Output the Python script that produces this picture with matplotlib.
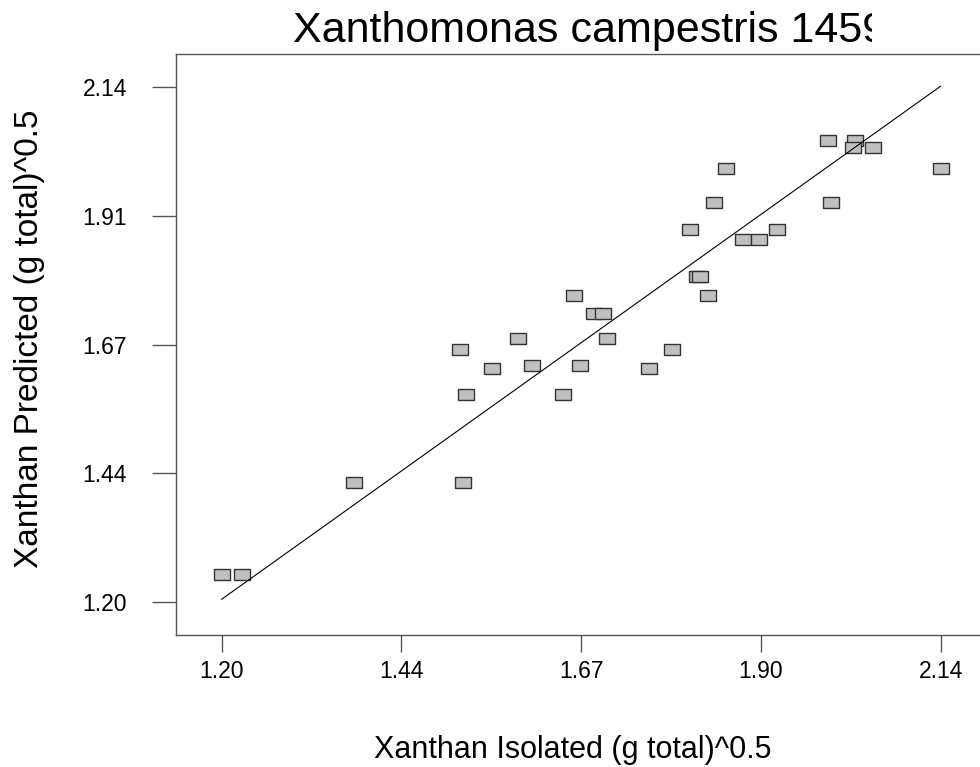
import matplotlib
matplotlib.use("Agg")
import matplotlib.pyplot as plt
from matplotlib.transforms import Bbox

plt.rcParams['font.family'] = ['Liberation Sans', 'DejaVu Sans']

title = "Xanthomonas campestris 1459"
x_label = "Xanthan Isolated (g total)^0.5"
y_label = "Xanthan Predicted (g total)^0.5"

# square-root transformed xanthan, isolated vs. model prediction
isolated = [1.200, 1.226, 1.373, 1.516, 1.511, 1.520, 1.553, 1.587,
            1.606, 1.646, 1.660, 1.668, 1.687, 1.699, 1.704, 1.759,
            1.789, 1.822, 1.825, 1.836, 1.812, 1.844, 1.860, 1.882,
            1.902, 1.926, 1.993, 1.996, 2.028, 2.025, 2.052, 2.140]
predicted = [1.252, 1.252, 1.419, 1.419, 1.662, 1.579, 1.628, 1.681,
             1.632, 1.579, 1.760, 1.632, 1.728, 1.728, 1.681, 1.628,
             1.662, 1.795, 1.795, 1.760, 1.880, 1.930, 1.992, 1.862,
             1.862, 1.880, 2.043, 1.930, 2.043, 2.031, 2.031, 1.992]

# least-squares fit line drawn through the points
fit_intercept = 0.0113
fit_slope = 0.9952

tick_values = [1.20, 1.435, 1.67, 1.905, 2.14]
x_tick_labels = ["1.20", "1.44", "1.67", "1.90", "2.14"]
y_tick_labels = ["1.20", "1.44", "1.67", "1.91", "2.14"]

W, H = 980, 767
fig = plt.figure(figsize=(W / 100, H / 100), dpi=100)
ax = fig.add_axes([176 / W, (H - 635) / H, (990 - 176) / W, (635 - 53.7) / H])
ax.set_xlim(1.1403, 2.2045)
ax.set_ylim(1.1404, 2.2002)

spine_col = "#555555"
for side in ("left", "top", "bottom", "right"):
    ax.spines[side].set_color(spine_col)
    ax.spines[side].set_linewidth(1.0)

# wide, flat rectangles as point markers
rect = [(-1, -0.72), (1, -0.72), (1, 0.72), (-1, 0.72), (-1, -0.72)]
ax.plot(isolated, predicted, linestyle="none", marker=rect, ms=11.0,
        mfc="#c0c0c0", mec="#333333", mew=1.0, zorder=2)

x0, x1 = min(isolated), max(isolated)
ax.plot([x0, x1], [fit_intercept + fit_slope * x0, fit_intercept + fit_slope * x1],
        color="black", lw=0.8, zorder=3)

ax.set_xticks(tick_values)
ax.set_xticklabels(x_tick_labels)
ax.set_yticks(tick_values)
ax.set_yticklabels(y_tick_labels)
ax.tick_params(axis="x", direction="out", length=12.2, width=1.0,
               color=spine_col, labelsize=16.5, pad=6)
ax.tick_params(axis="y", direction="out", length=17.3, width=1.0,
               color=spine_col, labelsize=16.5, pad=18)

t = fig.text(293 / W, 1 - 42 / H, title, ha="left", va="baseline",
             fontsize=31)
t.set_clip_box(Bbox([[0, 0], [872, H]]))
t.set_clip_on(True)

fig.text(30 / W, 1 - 339 / H, y_label, rotation=90, ha="center",
         va="center", fontsize=24)
fig.text(573 / W, 1 - 758 / H, x_label, ha="center", va="baseline",
         fontsize=22)

fig.savefig("out.png", dpi=100)
